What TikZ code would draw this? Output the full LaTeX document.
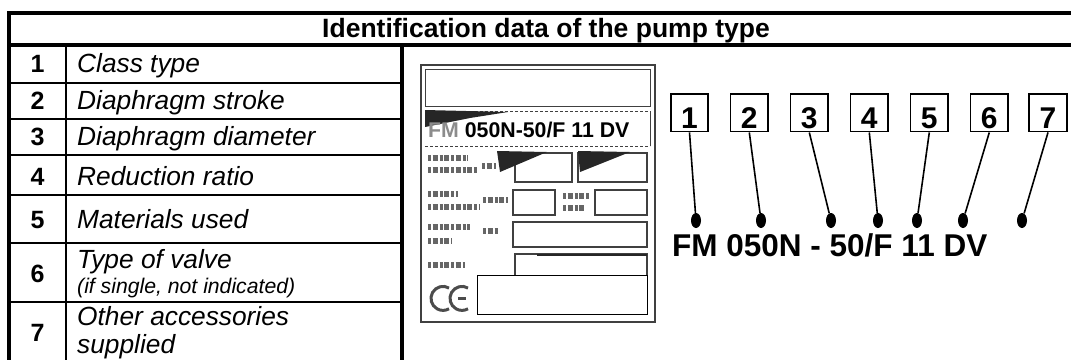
\documentclass[tikz,border=0pt]{standalone}
\usepackage{fontspec}
\setmainfont{Liberation Sans}
\usetikzlibrary{shapes.geometric}
\begin{document}
\begin{tikzpicture}[x=1pt,y=-1pt,
  thickrule/.style={line width=3.2pt},
  rowrule/.style={line width=2pt},
  txt/.style={inner sep=0pt, anchor=base west},
  numtxt/.style={inner sep=0pt, anchor=base, font=\bfseries\fontsize{25}{30}\selectfont},
  lbl/.style={txt, font=\itshape\fontsize{26.3}{31}\selectfont},
  sublbl/.style={txt, font=\itshape\fontsize{21.2}{25}\selectfont},
  numbox/.style={draw, line width=1.8pt, minimum width=37.5pt, minimum height=37.5pt,
     inner sep=0pt, text height=30.4pt, text depth=0pt,
     font=\bfseries\fontsize{30}{36}\selectfont},
  pin/.style={ellipse, fill=black, minimum width=10pt, minimum height=15pt, inner sep=0pt},
  pinline/.style={line width=1.6pt},
  plate/.style={draw=black!75, line width=1.2pt},
  smudge/.style={line width=5.5pt, draw=black!60, dash pattern=on 3pt off 1.5pt on 5pt off 2pt},
]
\useasboundingbox (0,0) rectangle (1071,360);

% ---------------- table frame ----------------
\draw[thickrule] (9,13) -- (1071,13);
\draw[thickrule] (9,45) -- (1071,45);
\draw[thickrule] (9,11.4) -- (9,360);
\draw[rowrule] (66,45) -- (66,360);
\draw[thickrule] (402,45) -- (402,360);
\foreach \yy in {83,119,155,195,243,302}
  \draw[rowrule] (9,\yy) -- (402,\yy);

% header
\node[inner sep=0pt, anchor=base, font=\bfseries\fontsize{26.5}{31}\selectfont] (head) at (546,37.7)
  {Identification data of the pump type};

% rows
\node[numtxt] (n1) at (37.5,72.5) {1};
\node[lbl] (l1) at (77,72.5) {Class type};
\node[numtxt] (n2) at (37.5,109) {2};
\node[lbl] (l2) at (77,109) {Diaphragm stroke};
\node[numtxt] (n3) at (37.5,145) {3};
\node[lbl] (l3) at (77,145) {Diaphragm diameter};
\node[numtxt] (n4) at (37.5,185) {4};
\node[lbl] (l4) at (77,185) {Reduction ratio};
\node[numtxt] (n5) at (37.5,228) {5};
\node[lbl] (l5) at (77,228) {Materials used};
\node[numtxt] (n6) at (37.5,282) {6};
\node[lbl] (l6) at (77,268) {Type of valve};
\node[sublbl] (l6b) at (77,293) {(if single, not indicated)};
\node[numtxt] (n7) at (37.5,341) {7};
\node[lbl] (l7) at (77,325) {Other accessories};
\node[lbl] (l7b) at (77,353) {supplied};

% ---------------- nameplate ----------------
\draw[plate] (421,65) rectangle (655,322);
\draw[plate, line width=1pt] (425,69) rectangle (650,106);
\draw[plate, line width=1pt, densely dashed] (425,111) -- (650,111);
\draw[plate, line width=1pt] (650,111) -- (650,146);
\draw[plate, line width=1pt, densely dashed] (425,146) -- (650,146);
\fill[black!85] (425,110) -- (508,112) -- (470,118) -- (425,127) -- cycle;
\node[txt, font=\bfseries\fontsize{21.3}{25}\selectfont] (ptext) at (428,137)
  {\textcolor{black!45}{FM} 050N-50/F 11 DV};

% capacity row
\draw[plate] (515,153) rectangle (572,182);
\draw[plate] (578,153) rectangle (647,182);
\fill[black!85] (497,151) -- (547,152) -- (500,172) -- cycle;
\fill[black!85] (578,151) -- (630,152) -- (580,172) -- cycle;
\draw[smudge] (428,158) -- (468,158);
\draw[smudge] (428,170) -- (478,170);
\draw[smudge] (482,166) -- (496,166);
% pressure row
\draw[plate] (513,190) rectangle (555,215);
\draw[plate] (595,190) rectangle (647,215);
\draw[smudge] (428,194) -- (458,194);
\draw[smudge] (428,207) -- (480,207);
\draw[smudge] (483,200) -- (508,200);
\draw[smudge] (563,196) -- (590,196);
\draw[smudge] (563,208) -- (585,208);
% serial row
\draw[plate] (513,222) rectangle (647,247);
\draw[smudge] (428,227) -- (470,227);
\draw[smudge] (428,241) -- (452,241);
\draw[smudge] (483,231) -- (498,231);
% year row
\draw[plate] (515,254) rectangle (647,290);
\draw[line width=2.5pt, black!85] (537,255) -- (647,255);
\draw[smudge] (428,265) -- (465,265);
\draw[fill=white, draw=black, line width=1pt] (477,275) rectangle (647,314);
% CE mark
\draw[line width=3pt, black!70] (449,288) arc[start angle=60, end angle=300, radius=12pt];
\draw[line width=3pt, black!70] (468,288) arc[start angle=60, end angle=300, radius=12pt];
\draw[line width=2.5pt, black!70] (458,298.4) -- (466,298.4);

% ---------------- code breakdown ----------------
\foreach \i/\xx in {1/689.5,2/749.3,3/809.3,4/869.3,5/929.3,6/989.3,7/1048}
  \node[numbox] (b\i) at (\xx,112.8) {\i};
\foreach \i/\xx in {1/696,2/761,3/831,4/878,5/917,6/963,7/1022}
  \node[pin] (d\i) at (\xx,220.5) {};
\foreach \i in {1,...,7}
  \draw[pinline] (b\i.south) -- (d\i);

\node[txt, font=\bfseries\fontsize{31.5}{36}\selectfont] (code) at (672,256)
  {FM 050N - 50/F 11 DV};
\end{tikzpicture}
\end{document}
